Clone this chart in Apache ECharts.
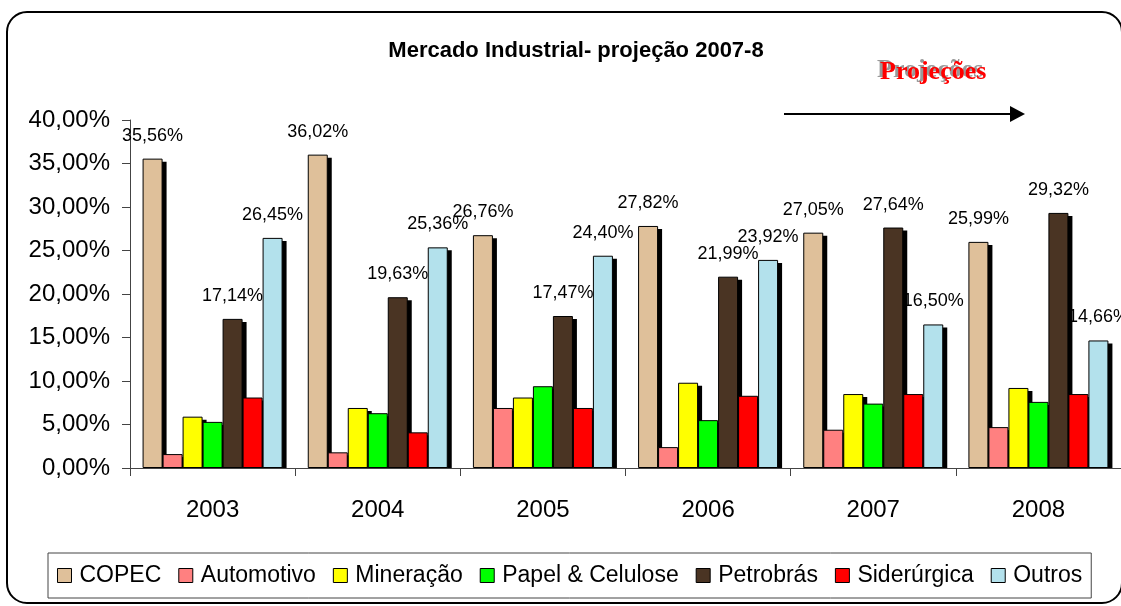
<!DOCTYPE html>
<html>
<head>
<meta charset="utf-8">
<script src="https://cdn.jsdelivr.net/npm/echarts@6/dist/echarts.min.js"></script>
<style>
  html, body { margin: 0; padding: 0; background: #fff; }
  #main { width: 1121px; height: 606px; }
</style>
</head>
<body>
<div id="main"></div>
<script>
var years = ['2003', '2004', '2005', '2006', '2007', '2008'];
var seriesNames = ['COPEC', 'Automotivo', 'Mineração', 'Papel & Celulose', 'Petrobrás', 'Siderúrgica', 'Outros'];
var copec = [35.56, 36.02, 26.76, 27.82, 27.05, 25.99];
var automotivo = [1.6, 1.8, 6.9, 2.4, 4.4, 4.7];
var mineracao = [5.9, 6.9, 8.1, 9.8, 8.5, 9.2];
var papel = [5.3, 6.3, 9.4, 5.5, 7.4, 7.6];
var petrobras = [17.14, 19.63, 17.47, 21.99, 27.64, 29.32];
var siderurgica = [8.1, 4.1, 6.9, 8.3, 8.5, 8.5];
var outros = [26.45, 25.36, 24.40, 23.92, 16.50, 14.66];
var colors = ['#dfc09a', '#ff8080', '#ffff00', '#00ff00', '#4a3423', '#ff0000', '#b3e1ec'];
var showLabel = [true, false, false, false, true, false, true];

var dom = document.getElementById('main');
var myChart = echarts.init(dom);
var font = "'Liberation Sans', Arial, sans-serif";
var barW = 20;

function pct(v) {
  return v.toFixed(2).replace('.', ',') + '%';
}

var allData = [copec, automotivo, mineracao, papel, petrobras, siderurgica, outros];

// black drop shadows drawn under all bars: [category, value, series index]
var shadowData = [];
allData.forEach(function (d, s) {
  d.forEach(function (v, c) { shadowData.push([c, v, s]); });
});

var series = [{
  name: 'sombra',
  type: 'custom',
  z: 1,
  silent: true,
  data: shadowData,
  renderItem: function (params, api) {
    var c = api.value(0), v = api.value(1), s = api.value(2);
    var top = api.coord([c, v]);
    var base = api.coord([c, 0]);
    var x = top[0] - barW * 7 / 2 + s * barW;
    return {
      type: 'rect',
      shape: { x: x + 4, y: top[1] + 3, width: barW, height: base[1] - top[1] - 3 },
      style: { fill: '#000' }
    };
  }
}];

allData.forEach(function (d, i) {
  series.push({
    name: seriesNames[i],
    type: 'bar',
    z: 2,
    data: d,
    barWidth: barW,
    barGap: '0%',
    itemStyle: {
      color: colors[i],
      borderColor: '#000',
      borderWidth: 1
    },
    label: {
      show: showLabel[i],
      position: 'top',
      distance: 14,
      color: '#000',
      fontFamily: font,
      fontSize: 18,
      formatter: function (p) { return pct(p.value); }
    },
    emphasis: { disabled: true }
  });
});

var option = {
  animation: false,
  title: {
    text: 'Mercado Industrial- projeção 2007-8',
    left: 571,
    textAlign: 'center',
    top: 35,
    textStyle: { fontFamily: font, fontSize: 22, fontWeight: 'bold', color: '#000' }
  },
  legend: {
    left: 48,
    top: 553,
    padding: [11, 9, 11, 9],
    borderColor: '#444',
    borderWidth: 1,
    itemWidth: 14,
    itemHeight: 14,
    itemGap: 17,
    icon: 'rect',
    itemStyle: { borderColor: '#000', borderWidth: 1 },
    textStyle: { fontFamily: font, fontSize: 23, color: '#000', padding: [0, 0, 0, 3] },
    selectedMode: false,
    data: seriesNames
  },
  grid: { left: 130, right: 0, top: 120, bottom: 138, containLabel: false },
  xAxis: {
    type: 'category',
    data: years,
    axisLine: { lineStyle: { color: '#444', width: 1 } },
    axisTick: { show: true, length: 8, lineStyle: { color: '#444' } },
    axisLabel: { fontFamily: font, fontSize: 24, color: '#000', margin: 30 }
  },
  yAxis: {
    type: 'value',
    min: 0,
    max: 40,
    interval: 5,
    splitLine: { show: false },
    axisLine: { show: true, lineStyle: { color: '#444', width: 1 } },
    axisTick: { show: true, length: 8, lineStyle: { color: '#444' } },
    axisLabel: {
      fontFamily: font, fontSize: 24, color: '#000', margin: 20,
      formatter: function (v) { return pct(v); }
    }
  },
  graphic: [
    {
      type: 'rect',
      shape: { x: 7, y: 12, width: 1115, height: 591, r: 20 },
      style: { fill: 'none', stroke: '#000', lineWidth: 2 },
      z: -1
    },
    {
      type: 'text',
      x: 877, y: 57,
      style: { text: 'Projeções', fill: '#999', font: "bold 26px 'Liberation Serif', 'Times New Roman', serif" }
    },
    {
      type: 'text',
      x: 880, y: 59,
      style: { text: 'Projeções', fill: '#ff0000', font: "bold 26px 'Liberation Serif', 'Times New Roman', serif" }
    },
    {
      type: 'line',
      shape: { x1: 784, y1: 114, x2: 1012, y2: 114 },
      style: { stroke: '#000', lineWidth: 2 }
    },
    {
      type: 'polygon',
      shape: { points: [[1010, 106], [1025, 114], [1010, 122]] },
      style: { fill: '#000' }
    }
  ],
  series: series
};

if (option && typeof option === 'object') {
  myChart.setOption(option);
}
</script>
</body>
</html>
